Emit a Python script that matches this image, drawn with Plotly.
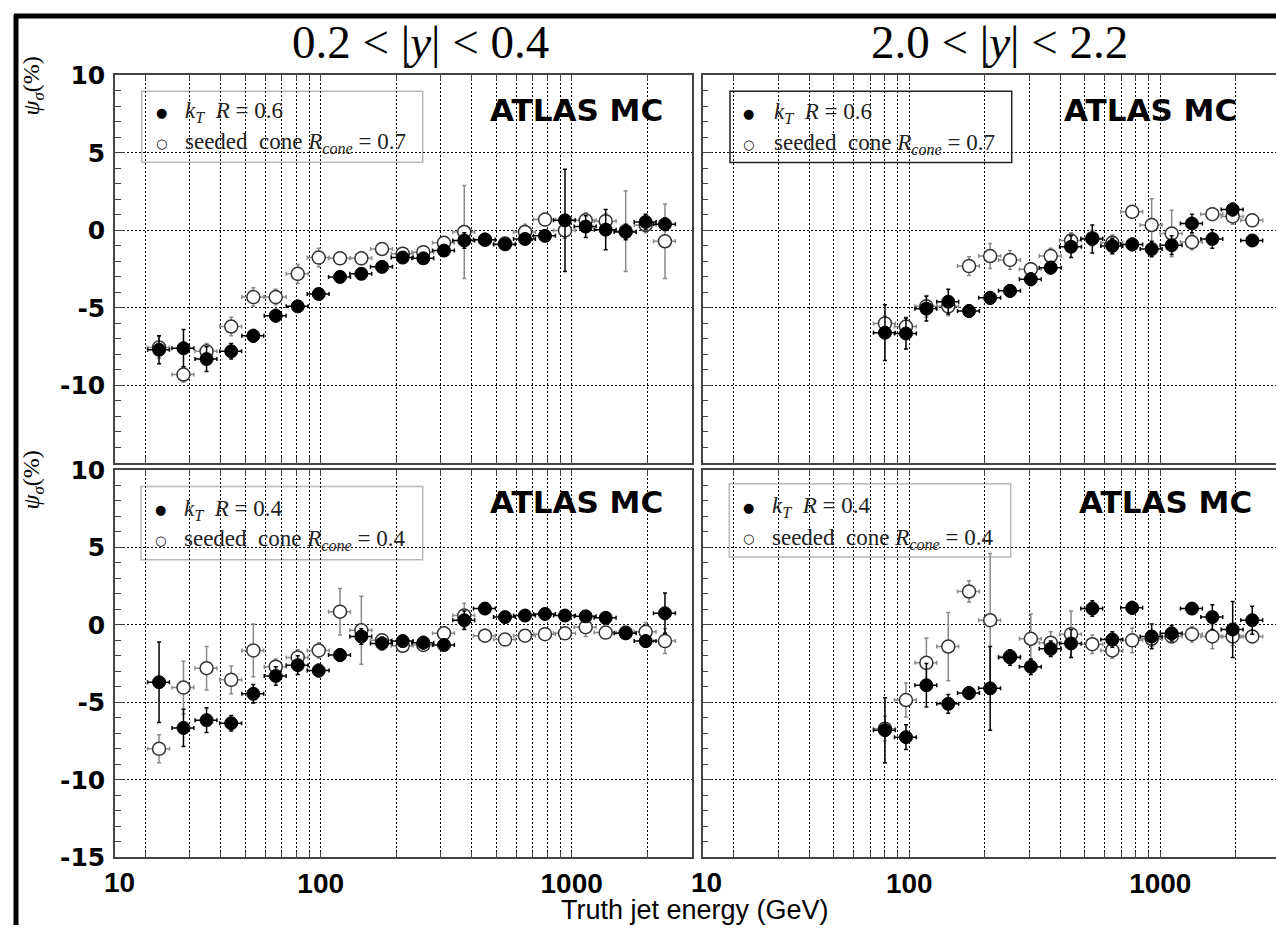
import plotly.graph_objects as go

W, H = 1276, 940

# ---------------- data ----------------
E_central = [22.7, 28.4, 35.1, 44.0, 53.9, 66.2, 81.0, 98.2, 119.4, 145.2, 175.5, 212.2, 256.4,
             309.9, 373.3, 451.3, 542.5, 651.6, 782.9, 940.4, 1137, 1366, 1641, 1971, 2353]
E_forward = [80, 97, 117, 143, 173, 210, 252, 305, 366, 441, 536, 644, 773, 924, 1110, 1337,
             1612, 1943, 2325]

kt06_central = [-7.7, -7.6, -8.3, -7.8, -6.8, -5.5, -4.9, -4.1, -3.0, -2.8, -2.35, -1.75, -1.8,
                -1.3, -0.65, -0.6, -0.9, -0.55, -0.35, 0.65, 0.25, 0.05, -0.1, 0.55, 0.4]
kt06_central_err = [0.9, 1.2, 0.8, 0.5, 0.4, 0.4, 0.3, 0.3, 0.3, 0.3, 0.3, 0.3, 0.3, 0.3, 0.5,
                    0.4, 0.3, 0.3, 0.3, 3.3, 0.7, 1.3, 0.5, 0.5, 0.4]
cone07_central = [-7.55, -9.3, -7.8, -6.2, -4.3, -4.3, -2.8, -1.75, -1.8, -1.8, -1.2, -1.5, -1.4,
                  -0.8, -0.1, -0.6, -0.85, -0.1, 0.7, 0.0, 0.65, 0.6, -0.05, 0.35, -0.7]
cone07_central_err = [0.7, 0.5, 0.5, 0.6, 0.6, 0.5, 0.6, 0.6, 0.4, 0.4, 0.4, 0.4, 0.4, 0.4, 3.0,
                      0.4, 0.4, 0.5, 0.4, 0.5, 0.5, 0.5, 2.6, 0.5, 2.4]

kt06_forward = [-6.6, -6.65, -5.05, -4.6, -5.2, -4.35, -3.9, -3.15, -2.4, -1.05, -0.55, -1.0,
                -0.9, -1.2, -0.95, 0.45, -0.55, 1.35, -0.65]
kt06_forward_err = [1.8, 1.0, 0.8, 0.8, 0.4, 0.4, 0.4, 0.4, 0.4, 0.7, 0.9, 0.5, 0.4, 0.5, 0.6,
                    0.6, 0.6, 0.4, 0.3]
cone07_forward = [-6.0, -6.2, -4.9, -4.9, -2.3, -1.65, -1.9, -2.5, -1.65, -0.65, -0.5, -0.8, 1.2,
                  0.35, -0.2, -0.75, 1.05, 0.9, 0.65]
cone07_forward_err = [0.5, 0.6, 0.7, 0.6, 0.6, 0.8, 0.6, 0.4, 0.5, 0.5, 0.5, 0.5, 0.4, 1.7, 1.5,
                      0.5, 0.4, 0.5, 0.4]

kt04_central = [-3.7, -6.65, -6.15, -6.35, -4.45, -3.3, -2.6, -2.95, -1.95, -0.75, -1.2, -1.05,
                -1.15, -1.3, 0.3, 1.05, 0.5, 0.6, 0.7, 0.6, 0.55, 0.45, -0.55, -1.05, 0.75]
kt04_central_err = [2.6, 1.2, 0.8, 0.5, 0.6, 0.6, 0.6, 0.4, 0.4, 0.5, 0.4, 0.4, 0.4, 0.3, 0.6,
                    0.3, 0.3, 0.3, 0.3, 0.3, 0.3, 0.3, 0.3, 0.4, 1.3]
cone04_central = [-8.0, -4.05, -2.8, -3.55, -1.65, -2.7, -2.1, -1.65, 0.85, -0.35, -1.0, -1.35,
                  -1.3, -0.55, 0.6, -0.7, -0.95, -0.7, -0.6, -0.55, -0.15, -0.5, -0.5, -0.45, -1.05]
cone04_central_err = [0.9, 1.7, 1.4, 0.9, 1.7, 0.5, 0.5, 0.5, 1.5, 2.2, 0.4, 0.4, 0.4, 0.4, 0.8,
                      0.4, 0.3, 0.3, 0.3, 0.3, 0.6, 0.3, 0.3, 0.6, 0.8]

kt04_forward = [-6.8, -7.25, -3.9, -5.1, -4.4, -4.1, -2.1, -2.7, -1.55, -1.2, 1.05, -0.95, 1.1,
                -0.75, -0.55, 1.05, 0.5, -0.3, 0.3]
kt04_forward_err = [2.1, 0.8, 1.4, 0.6, 0.4, 2.7, 0.5, 0.5, 0.5, 0.9, 0.5, 0.5, 0.4, 0.8, 0.5,
                    0.3, 0.8, 1.8, 0.9]
cone04_forward = [-6.7, -4.85, -2.45, -1.4, 2.15, 0.3, -2.05, -0.9, -1.15, -0.6, -1.25, -1.65,
                  -1.0, -0.9, -0.75, -0.6, -0.75, -0.75, -0.75]
cone04_forward_err = [0.8, 1.1, 1.6, 2.2, 0.7, 4.3, 0.4, 1.6, 0.7, 1.5, 0.6, 0.5, 0.8, 0.5, 0.4,
                      0.5, 0.8, 0.6, 0.4]

grid_x = [20, 30, 40, 50, 60, 70, 80, 90, 100, 200, 300, 400, 500, 600, 700, 800, 900, 1000, 2000]
x_labels = {100: "100", 1000: "1000"}
y_ticks = [-15, -10, -5, 0, 5, 10]

titles = ["0.2 &lt; |<i>y</i>| &lt; 0.4", "2.0 &lt; |<i>y</i>| &lt; 2.2"]
legend_texts = [
    ("<i>k</i><sub><i>T</i></sub>  <i>R</i> = 0.6", "seeded  cone <i>R</i><sub><i>cone</i></sub> = 0.7"),
    ("<i>k</i><sub><i>T</i></sub>  <i>R</i> = 0.4", "seeded  cone <i>R</i><sub><i>cone</i></sub> = 0.4"),
]
y_title = "<i>ψ</i><sub><i>σ</i></sub>(%)"
x_title = "Truth jet energy (GeV)"
stamp = "ATLAS MC"


def fx(p):
    return p / W


def fy(p):
    # target picture row -> paper fraction (the photographed page is squeezed slightly)
    page = (p - 13.5) / 0.9694
    return 1 - page / H


fig = go.Figure()

panels = [
    ("", E_central, cone07_central, cone07_central_err, kt06_central, kt06_central_err),
    ("2", E_forward, cone07_forward, cone07_forward_err, kt06_forward, kt06_forward_err),
    ("3", E_central, cone04_central, cone04_central_err, kt04_central, kt04_central_err),
    ("4", E_forward, cone04_forward, cone04_forward_err, kt04_forward, kt04_forward_err),
]

for suf, E, ov, oe, fv, fe in panels:
    fig.add_trace(go.Scatter(
        x=E, y=ov, mode="markers", xaxis="x" + suf, yaxis="y" + suf, showlegend=False,
        marker=dict(symbol="circle", size=13, color="white", line=dict(color="#333", width=1.5)),
        error_y=dict(type="data", array=oe, color="#8a8a8a", thickness=1.5, width=2),
        error_x=dict(type="percent", value=10, color="#8a8a8a", thickness=1.5, width=2),
    ))
    fig.add_trace(go.Scatter(
        x=E, y=fv, mode="markers", xaxis="x" + suf, yaxis="y" + suf, showlegend=False,
        marker=dict(symbol="circle", size=13, color="black", line=dict(color="black", width=1)),
        error_y=dict(type="data", array=fe, color="black", thickness=1.5, width=2),
        error_x=dict(type="percent", value=10, color="black", thickness=1.5, width=2),
    ))

XL = [fx(115), fx(692.3)]
XR = [fx(702.7), 1.0]
YT = [fy(462.5), fy(75)]
YB = [fy(857), fy(469.5)]
rng_left = [1.1805, 3.4805]
rng_right = [1.177, 3.461]

AX_COL = "#444"
TICK_FONT_X = dict(family="Liberation Sans Narrow, Liberation Sans, Arial", size=28,
                   color="black", weight="bold")


def xaxis(domain, rng, anchor, labels):
    return dict(
        type="log", domain=domain, range=rng, anchor=anchor,
        tickmode="array", tickvals=grid_x,
        ticktext=[x_labels.get(v, "") if labels else "" for v in grid_x],
        showticklabels=labels, tickfont=TICK_FONT_X, ticklabelstandoff=0,
        showgrid=True, gridcolor="black", griddash="2px,2px", gridwidth=1,
        ticks="inside", ticklen=6, tickcolor=AX_COL, tickwidth=1,
        showline=True, linecolor=AX_COL, linewidth=1.5, mirror="ticks", zeroline=False,
    )


def yaxis(domain, anchor, labels, mirror, hide_bottom):
    return dict(
        domain=domain, range=[-15, 10], anchor=anchor,
        tickmode="array", tickvals=y_ticks,
        ticktext=[("" if (hide_bottom and v == -15) else str(v)) for v in y_ticks],
        showticklabels=labels,
        tickfont=dict(family="DejaVu Sans", size=25, color="black", weight="bold"),
        ticklabelstandoff=3,
        showgrid=True, gridcolor="black", griddash="2px,2px", gridwidth=1,
        ticks="inside", ticklen=10, tickcolor=AX_COL, tickwidth=1,
        minor=dict(tickmode="linear", tick0=0, dtick=1, ticks="inside", ticklen=6,
                   tickcolor=AX_COL, showgrid=False),
        showline=True, linecolor=AX_COL, linewidth=1.5, mirror=mirror, zeroline=False,
    )


fig.update_layout(
    width=W, height=H, margin=dict(l=0, r=0, t=0, b=0),
    paper_bgcolor="white", plot_bgcolor="white", showlegend=False,
    xaxis=xaxis(XL, rng_left, "y", False),
    xaxis2=xaxis(XR, rng_right, "y2", False),
    xaxis3=xaxis(XL, rng_left, "y3", True),
    xaxis4=xaxis(XR, rng_right, "y4", True),
    yaxis=yaxis(YT, "x", True, True, True),
    yaxis2=yaxis(YT, "x2", False, False, True),
    yaxis3=yaxis(YB, "x3", True, True, False),
    yaxis4=yaxis(YB, "x4", False, False, False),
)

shapes = []
annotations = []

# white boxes behind "ATLAS MC" (hide grid there)
for x0, x1, y0, y1 in [(450, 690, 77, 136.5), (1038, 1276, 77, 136.5),
                       (450, 690, 471.5, 531), (1038, 1276, 471.5, 531)]:
    shapes.append(dict(type="rect", xref="paper", yref="paper", x0=fx(x0), x1=fx(x1),
                       y0=fy(y1), y1=fy(y0), fillcolor="white", line=dict(width=0),
                       layer="between"))

# legend boxes
legend_boxes = [
    (141.7, 422.7, 90.7, 161.7, "#b8b8b8", 161, 183, 111.7, 142.7, 0),
    (730, 1011.7, 90.7, 162, "#222222", 748.3, 771.7, 112.7, 144, 0),
    (141, 422.7, 486, 559.3, "#b8b8b8", 160.7, 181.7, 509.3, 540, 1),
    (729.3, 1010.7, 483.3, 556.7, "#b8b8b8", 748.3, 770, 506.7, 538.3, 1),
]
for x0, x1, y0, y1, col, mx, tx, r1, r2, li in legend_boxes:
    shapes.append(dict(type="rect", xref="paper", yref="paper", x0=fx(x0), x1=fx(x1),
                       y0=fy(y1), y1=fy(y0), fillcolor="white",
                       line=dict(color=col, width=1.5), layer="between"))
    annotations.append(dict(xref="paper", yref="paper", x=fx(mx), y=fy(r1), text="●",
                            showarrow=False, xanchor="center", yanchor="middle",
                            font=dict(family="DejaVu Sans", size=13, color="black")))
    annotations.append(dict(xref="paper", yref="paper", x=fx(mx), y=fy(r2), text="○",
                            showarrow=False, xanchor="center", yanchor="middle",
                            font=dict(family="DejaVu Sans", size=13, color="black")))
    annotations.append(dict(xref="paper", yref="paper", x=fx(tx), y=fy(r1), text=legend_texts[li][0],
                            showarrow=False, xanchor="left", yanchor="middle",
                            font=dict(family="Liberation Serif", size=23, color="#222")))
    annotations.append(dict(xref="paper", yref="paper", x=fx(tx), y=fy(r2), text=legend_texts[li][1],
                            showarrow=False, xanchor="left", yanchor="middle",
                            font=dict(family="Liberation Serif", size=23, color="#222")))

# ATLAS MC stamps
for cx, cy in [(576, 110), (1150, 110), (576, 502), (1165, 502)]:
    annotations.append(dict(xref="paper", yref="paper", x=fx(cx), y=fy(cy), text=stamp,
                            showarrow=False, xanchor="center", yanchor="middle",
                            font=dict(family="DejaVu Sans", size=31, color="black", weight="bold")))

# column titles
for cx, t in [(420, titles[0]), (999, titles[1])]:
    annotations.append(dict(xref="paper", yref="paper", x=fx(cx), y=fy(42), text=t,
                            showarrow=False, xanchor="center", yanchor="middle",
                            font=dict(family="Liberation Serif", size=47, color="black")))

# y titles
for cy in [86, 480]:
    annotations.append(dict(xref="paper", yref="paper", x=fx(33), y=fy(cy), text=y_title,
                            textangle=-90, showarrow=False, xanchor="center", yanchor="middle",
                            font=dict(family="Liberation Serif", size=24, color="black")))

# "10" label at the left edge of each lower panel
for xr in ["x3 domain", "x4 domain"]:
    annotations.append(dict(xref=xr, yref="paper", x=0, y=fy(882), text="10", xshift=4,
                            showarrow=False, xanchor="center", yanchor="middle",
                            font=TICK_FONT_X))

# x title
annotations.append(dict(xref="paper", yref="paper", x=fx(695), y=0, yshift=-2, text=x_title,
                        showarrow=False, xanchor="center", yanchor="bottom",
                        font=dict(family="Liberation Sans Narrow, Liberation Sans, Arial",
                                  size=27, color="black")))

# slide frame
shapes.append(dict(type="line", xref="paper", yref="paper", x0=fx(16), x1=fx(16), y0=0,
                   y1=1 - 1 / H, line=dict(color="black", width=5)))
shapes.append(dict(type="line", xref="paper", yref="paper", x0=fx(14), x1=1, y0=1 - 2 / H,
                   y1=1 - 2 / H, line=dict(color="black", width=5)))

fig.update_layout(shapes=shapes, annotations=annotations)
fig.write_html(
    "out.html",
    config={"displayModeBar": False},
    post_script="document.body.style.margin='0';document.body.style.overflow='hidden';"
                "document.documentElement.style.overflow='hidden';",
)
